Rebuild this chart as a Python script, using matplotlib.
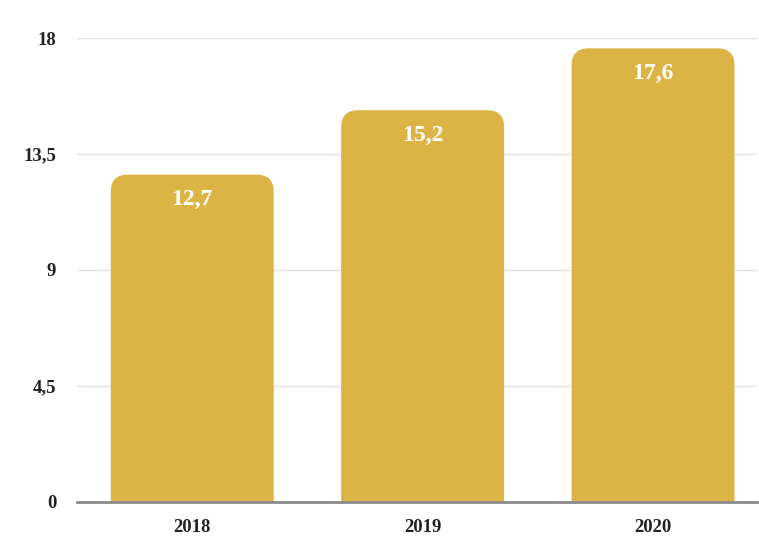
import matplotlib
matplotlib.use("Agg")
import matplotlib.pyplot as plt
from matplotlib.patches import FancyBboxPatch

categories = ["2018", "2019", "2020"]
values = [12.7, 15.2, 17.6]
labels = ["12,7", "15,2", "17,6"]
yticks = [0, 4.5, 9, 13.5, 18]
ytick_labels = ["0", "4,5", "9", "13,5", "18"]

color = "#DCB445"
plt.rcParams['font.family'] = ['Liberation Serif', 'DejaVu Serif']

fig = plt.figure(figsize=(7.59, 5.42), dpi=100)
W, H = 759, 542
left, right, bottom, top = 77, 757, 502, 38
ax = fig.add_axes([left / W, 1 - bottom / H, (right - left) / W, (bottom - top) / H])

x = list(range(len(categories)))
bw = 0.707
bars = ax.bar(x, values, width=bw, color=color, alpha=0)
ax.set_xlim(-0.5, (right - 192) / 230.5)
ax.set_ylim(0, 18)

# rounded-top bars
xunit = 230.5
yunit = (bottom - top) / 18
r_px = 17
r_x = r_px / xunit
r_y = r_px / yunit
for i, b in enumerate(bars):
    bx, bwid, bh = b.get_x(), b.get_width(), b.get_height()
    p = FancyBboxPatch((bx, -1.0), bwid, bh + 1.0,
                       boxstyle=f"round,pad=0,rounding_size={r_x}",
                       mutation_aspect=r_y / r_x,
                       facecolor=color, edgecolor="none", zorder=2)
    ax.add_patch(p)
    ax.text(bx + bwid / 2, bh - 25 / yunit, labels[i],
            ha="center", va="center", color="white", fontsize=17,
            fontweight="bold", zorder=3)

ax.set_yticks(yticks)
ax.set_yticklabels(ytick_labels)
ax.set_xticks(x)
ax.set_xticklabels(categories)
ax.tick_params(axis="both", length=0, labelsize=13.5, colors="#222222")
ax.tick_params(axis="y", pad=15)
ax.tick_params(axis="x", pad=12)
for lab in ax.get_xticklabels() + ax.get_yticklabels():
    lab.set_fontweight("bold")

ax.grid(axis="y", color="#E3E3E3", linewidth=1, zorder=0)
ax.set_axisbelow(True)
for s in ["top", "right", "left"]:
    ax.spines[s].set_visible(False)
ax.spines["bottom"].set_color("#8A8A8A")
ax.spines["bottom"].set_linewidth(2)
ax.spines["bottom"].set_zorder(4)

fig.savefig("out.png", dpi=100)
